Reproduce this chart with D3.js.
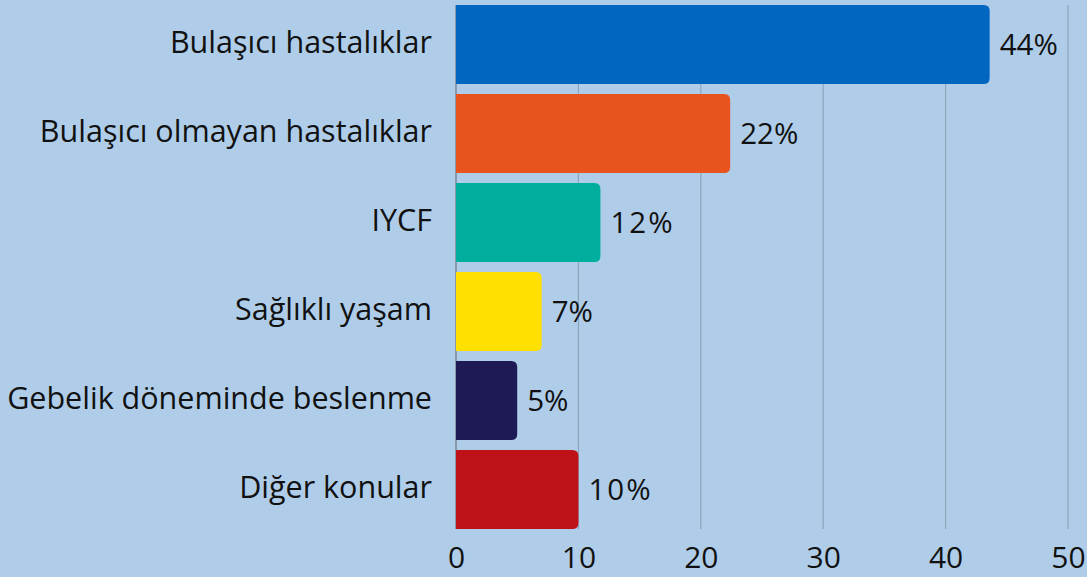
<!DOCTYPE html>
<html>
<head>
<meta charset="utf-8">
<script src="https://cdn.jsdelivr.net/npm/d3@7"></script>
<style>
  html, body { margin: 0; padding: 0; background: #afcde9; }
  svg { display: block; font-family: "Open Sans", "Noto Sans", sans-serif; }
</style>
</head>
<body>
<svg id="chart"></svg>
<script>
var categories = ['Bulaşıcı hastalıklar', 'Bulaşıcı olmayan hastalıklar', 'IYCF', 'Sağlıklı yaşam', 'Gebelik döneminde beslenme', 'Diğer konular'];
var values = [43.6, 22.4, 11.8, 7.0, 5.0, 10.0];
var valueLabels = ['44%', '22%', '12%', '7%', '5%', '10%'];
var colors = ['#0066c0', '#e8531e', '#00ae9e', '#ffe000', '#1e1a56', '#be1218'];
var xTicks = [0, 10, 20, 30, 40, 50];

var width = 1087, height = 577;
var margin = { top: 0, right: 19, bottom: 43, left: 456 };
var innerH = 534;

var svg = d3.select('#chart')
    .attr('width', width)
    .attr('height', height);

var g = svg.append('g')
    .attr('transform', 'translate(' + margin.left + ',' + margin.top + ')');

var x = d3.scaleLinear().domain([0, 50]).range([0, 612]);
var y = d3.scaleBand()
    .domain(categories)
    .range([0, innerH])
    .paddingInner(0.112)
    .paddingOuter(0.056);

var gridTop = y(categories[0]);
var gridBottom = y(categories[categories.length - 1]) + y.bandwidth();

// gridlines
g.selectAll('.grid')
    .data(xTicks.slice(1))
    .enter().append('line')
    .attr('x1', function (d) { return x(d); })
    .attr('x2', function (d) { return x(d); })
    .attr('y1', gridTop)
    .attr('y2', gridBottom)
    .attr('stroke', '#8ea4bb')
    .attr('stroke-width', 1.2);

// zero axis line
g.append('line')
    .attr('x1', x(0)).attr('x2', x(0))
    .attr('y1', gridTop).attr('y2', gridBottom)
    .attr('stroke', '#6b7683')
    .attr('stroke-width', 1.2);

// bars with rounded right corners
function barPath(w, h, r) {
    r = Math.min(r, w / 2, h / 2);
    return 'M0,0H' + (w - r) + 'Q' + w + ',0 ' + w + ',' + r +
        'V' + (h - r) + 'Q' + w + ',' + h + ' ' + (w - r) + ',' + h +
        'H0Z';
}

g.selectAll('.bar')
    .data(values)
    .enter().append('path')
    .attr('class', 'bar')
    .attr('transform', function (d, i) { return 'translate(' + x(0) + ',' + y(categories[i]) + ')'; })
    .attr('d', function (d) { return barPath(x(d) - x(0), y.bandwidth(), 6); })
    .attr('fill', function (d, i) { return colors[i]; });

// value labels
g.selectAll('.val')
    .data(values)
    .enter().append('text')
    .attr('x', function (d) { return x(d) + 10; })
    .attr('y', function (d, i) { return y(categories[i]) + y.bandwidth() / 2; })
    .attr('dy', '0.35em')
    .attr('font-size', 29.5)
    .attr('letter-spacing', function (d, i) { return valueLabels[i].charAt(0) === '1' ? 2 : 0; })
    .attr('fill', '#111')
    .text(function (d, i) { return valueLabels[i]; });

// category labels
g.selectAll('.cat')
    .data(categories)
    .enter().append('text')
    .attr('x', -24)
    .attr('y', function (d) { return y(d) + y.bandwidth() / 2; })
    .attr('dy', '0.28em')
    .attr('text-anchor', 'end')
    .attr('font-size', 30.5)
    .attr('fill', '#111')
    .text(function (d) { return d; });

// x axis
var xAxis = g.append('g')
    .attr('transform', 'translate(0,' + gridBottom + ')')
    .call(d3.axisBottom(x).tickValues(xTicks).tickSize(0).tickPadding(18));
xAxis.select('.domain').remove();
xAxis.selectAll('text')
    .attr('font-size', 30)
    .attr('font-family', '"Open Sans", "Noto Sans", sans-serif')
    .attr('fill', '#111');
</script>
</body>
</html>
